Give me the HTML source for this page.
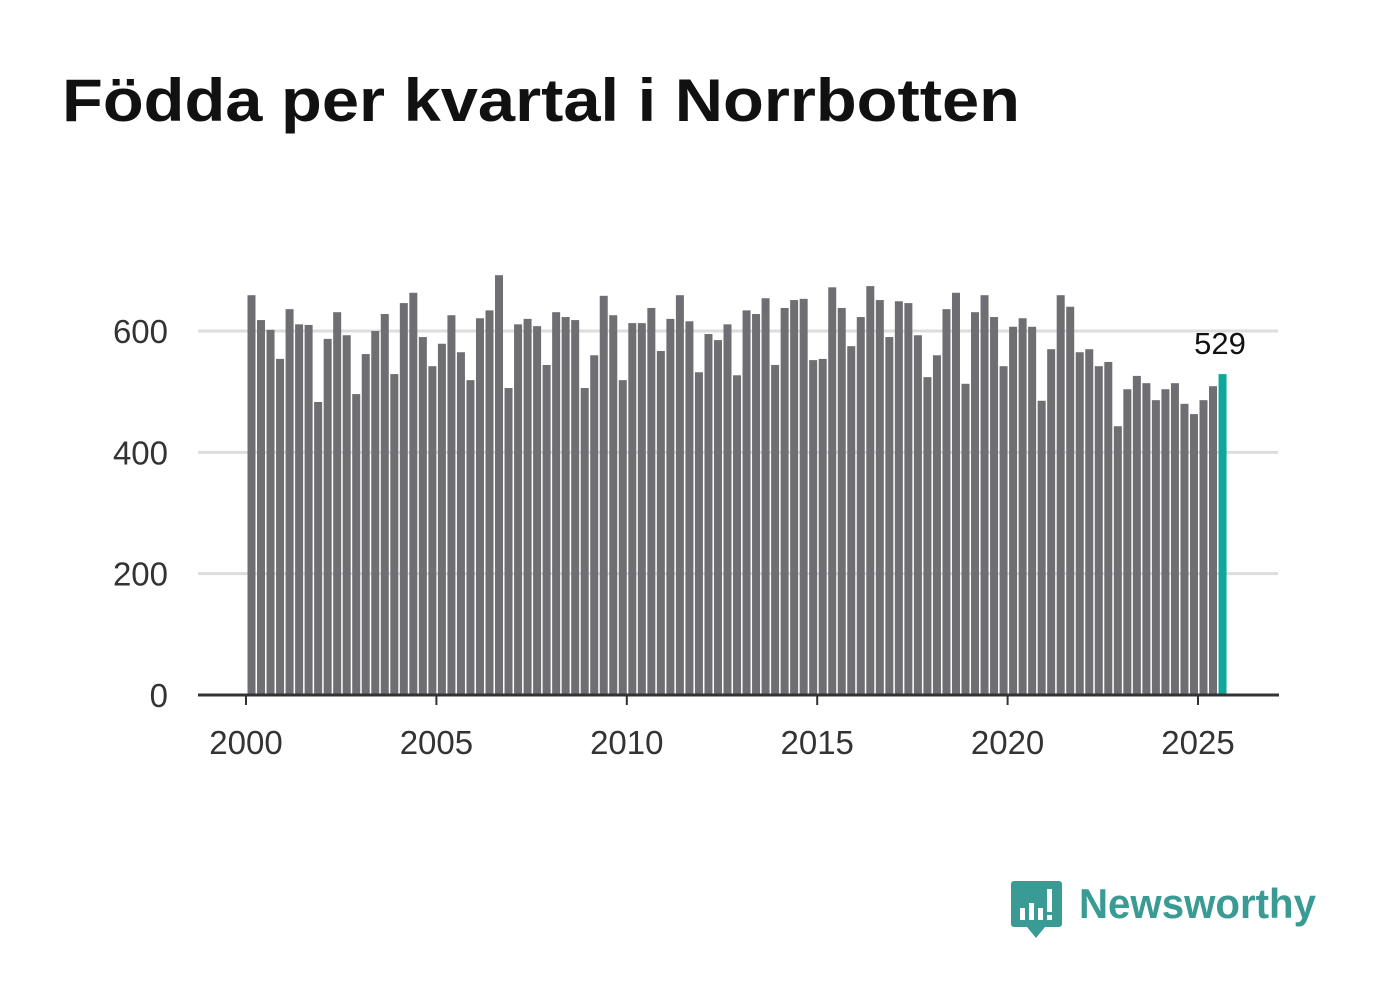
<!DOCTYPE html>
<html><head><meta charset="utf-8">
<style>
body{margin:0;background:#fff;width:1382px;height:999px;overflow:hidden;font-family:"Liberation Sans",sans-serif;}
</style></head>
<body>
<svg width="1382" height="999">
<text x="62" y="121" font-size="60" font-weight="bold" fill="#111" textLength="958" lengthAdjust="spacingAndGlyphs">Födda per kvartal i Norrbotten</text>
<g id="grid"></g>
<g id="bars"></g>
<g id="axes"></g>
<g>
<path d="M1014 881 h45 a3 3 0 0 1 3 3 v40 a3 3 0 0 1 -3 3 h-14 l-9 11 l-9 -11 h-13 a3 3 0 0 1 -3 -3 v-40 a3 3 0 0 1 3 -3z" fill="#3a9b94"/>
<rect x="1020" y="908" width="5" height="12" fill="#fff"/>
<rect x="1029" y="903" width="5" height="17" fill="#fff"/>
<rect x="1038" y="908" width="5" height="12" fill="#fff"/>
<rect x="1047" y="889" width="5" height="23" fill="#fff"/>
<rect x="1047" y="915" width="5" height="5" fill="#fff"/>
<text x="1079" y="918" font-size="42" font-weight="bold" fill="#3a9b94" textLength="237" lengthAdjust="spacingAndGlyphs">Newsworthy</text>
</g>
</svg>
<script>
const values = [659,618,602,554,636,611,610,483,587,631,593,496,562,600,628,529,646,663,590,542,579,626,565,519,621,634,692,506,611,620,608,544,631,623,618,506,560,658,626,519,613,613,638,567,620,659,616,532,595,585,611,527,634,628,654,544,638,651,653,552,554,672,638,575,623,674,651,590,649,646,593,524,560,636,663,513,631,659,623,542,607,621,607,485,570,659,640,565,570,542,549,443,504,526,514,486,504,514,480,463,486,509,529];
const startYear = 2000;
const yTicks = [0,200,400,600];
const xTicks = [2000,2005,2010,2015,2020,2025];
const NS="http://www.w3.org/2000/svg";
const y = v => 695 - v*364/600;
const x = t => 246 + (t-2000)*38.08;
function mk(tag,attrs,parent){const e=document.createElementNS(NS,tag);for(const k in attrs)e.setAttribute(k,attrs[k]);parent.appendChild(e);return e;}
const grid=document.getElementById('grid'),bars=document.getElementById('bars'),axes=document.getElementById('axes');
yTicks.forEach(v=>{
  if(v>0){const l=mk('line',{x1:198,x2:1278,y1:y(v),y2:y(v),stroke:'#dddddd','stroke-width':3},grid);
  
  }
  const t=mk('text',{x:168,y:y(v)+12,'text-anchor':'end','font-size':33,fill:'#333'},axes);
  t.textContent=v;
  
  
});
values.forEach((v,i)=>{
  const last=i===values.length-1;
  const r=mk('rect',{x:x(startYear+i/4)+1.5,y:y(v),width:8,height:695-y(v),fill:last?'#0ea89a':'#6f6e73'},bars);
  
  
  if(last){const t=mk('text',{x:x(startYear+i/4)+3,y:y(v)-20,'text-anchor':'middle','font-size':31,fill:'#111'},bars);
  t.textContent=v;
  
  }
});
const ax=mk('line',{x1:198,x2:1279,y1:695,y2:695,stroke:'#333','stroke-width':3},axes);


xTicks.forEach(t=>{
  mk('line',{x1:x(t),x2:x(t),y1:695,y2:705,stroke:'#333','stroke-width':2},axes);
  const l=mk('text',{x:x(t),y:754,'text-anchor':'middle','font-size':33,fill:'#333'},axes);
  l.textContent=t;
  
  
});
</script>
</body></html>
